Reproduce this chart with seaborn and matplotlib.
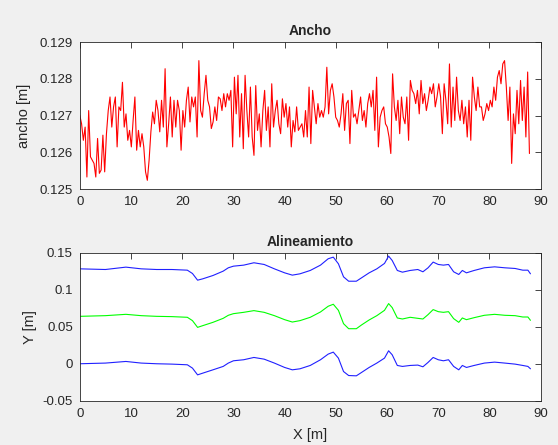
import numpy as np
import pandas as pd
import seaborn as sns
import matplotlib.pyplot as plt
from matplotlib.ticker import FuncFormatter

# Ancho (width) profile, one value every ~0.35 m
ancho = [
    0.12701, 0.12678, 0.12633, 0.12669, 0.12533, 0.12714, 0.12588, 0.12579, 0.12570, 0.12533,
    0.12638, 0.12543, 0.12552, 0.12647, 0.12547, 0.12651, 0.12714, 0.12751, 0.12669, 0.12724,
    0.12751, 0.12615, 0.12724, 0.12714, 0.12791, 0.12669, 0.12705, 0.12633, 0.12660, 0.12615,
    0.12687, 0.12751, 0.12606, 0.12660, 0.12615, 0.12651, 0.12615, 0.12547, 0.12524, 0.12579,
    0.12656, 0.12710, 0.12678, 0.12742, 0.12714, 0.12656, 0.12742, 0.12669, 0.12828, 0.12615,
    0.12678, 0.12751, 0.12642, 0.12742, 0.12669, 0.12742, 0.12714, 0.12606, 0.12714, 0.12669,
    0.12742, 0.12778, 0.12683, 0.12751, 0.12724, 0.12751, 0.12642, 0.12850, 0.12714, 0.12696,
    0.12760, 0.12810, 0.12742, 0.12724, 0.12665, 0.12683, 0.12724, 0.12687, 0.12751, 0.12746,
    0.12714, 0.12760, 0.12724, 0.12760, 0.12742, 0.12769, 0.12615, 0.12805, 0.12705, 0.12810,
    0.12642, 0.12760, 0.12610, 0.12810, 0.12714, 0.12642, 0.12778, 0.12642, 0.12592, 0.12782,
    0.12660, 0.12705, 0.12615, 0.12714, 0.12769, 0.12660, 0.12724, 0.12615, 0.12787, 0.12669,
    0.12714, 0.12742, 0.12678, 0.12651, 0.12746, 0.12696, 0.12733, 0.12669, 0.12724, 0.12615,
    0.12687, 0.12656, 0.12724, 0.12660, 0.12669, 0.12678, 0.12642, 0.12714, 0.12642, 0.12778,
    0.12624, 0.12769, 0.12724, 0.12678, 0.12733, 0.12696, 0.12714, 0.12696, 0.12724, 0.12832,
    0.12705, 0.12769, 0.12787, 0.12751, 0.12696, 0.12687, 0.12669, 0.12705, 0.12760, 0.12660,
    0.12733, 0.12742, 0.12624, 0.12769, 0.12696, 0.12705, 0.12678, 0.12714, 0.12751, 0.12687,
    0.12714, 0.12669, 0.12733, 0.12760, 0.12724, 0.12769, 0.12660, 0.12805, 0.12615, 0.12696,
    0.12714, 0.12724, 0.12678, 0.12669, 0.12642, 0.12597, 0.12814, 0.12724, 0.12687, 0.12742,
    0.12651, 0.12751, 0.12696, 0.12678, 0.12751, 0.12633, 0.12796, 0.12769, 0.12760, 0.12733,
    0.12769, 0.12705, 0.12796, 0.12733, 0.12760, 0.12714, 0.12742, 0.12778, 0.12760, 0.12787,
    0.12724, 0.12751, 0.12787, 0.12751, 0.12651, 0.12787, 0.12742, 0.12678, 0.12841, 0.12669,
    0.12778, 0.12687, 0.12805, 0.12714, 0.12687, 0.12742, 0.12678, 0.12724, 0.12642, 0.12742,
    0.12633, 0.12805, 0.12751, 0.12714, 0.12778, 0.12724, 0.12724, 0.12687, 0.12705, 0.12733,
    0.12714, 0.12742, 0.12724, 0.12778, 0.12742, 0.12805, 0.12823, 0.12787, 0.12841, 0.12850,
    0.12778, 0.12687, 0.12778, 0.12570, 0.12705, 0.12651, 0.12769, 0.12678, 0.12796, 0.12687,
    0.12778, 0.12642, 0.12819, 0.12597,
]
x_end = 87.8

# Alineamiento: positions along the track and the three lateral lines
x_al = [0, 5, 9, 12, 15, 18, 21, 22, 23, 24, 26, 28, 29, 30, 32, 34, 36, 38, 40, 41.5,
        43, 45, 47, 48.5, 49.5, 50.5, 51.5, 52.5, 54, 55, 56.5, 58, 59.5, 60.3, 61, 62,
        63, 64.5, 66, 67, 68, 69, 70, 71, 72, 73, 74, 74.7, 75.5, 77, 79, 81, 83, 85,
        86.5, 87.5, 88]
borde_izq = [0.1283, 0.1274, 0.1306, 0.1283, 0.1274, 0.1274, 0.1265, 0.1220, 0.1130, 0.1148,
             0.1193, 0.1252, 0.1297, 0.1319, 0.1333, 0.1365, 0.1342, 0.1283, 0.1229, 0.1198,
             0.1216, 0.1261, 0.1333, 0.1419, 0.1441, 0.1351, 0.1175, 0.1116, 0.1116, 0.1161,
             0.1229, 0.1283, 0.1356, 0.1455, 0.1396, 0.1261, 0.1238, 0.1261, 0.1274, 0.1243,
             0.1297, 0.1374, 0.1342, 0.1333, 0.1342, 0.1243, 0.1207, 0.1261, 0.1229, 0.1261,
             0.1297, 0.1310, 0.1297, 0.1288, 0.1265, 0.1265, 0.1216]
eje = [0.0642, 0.0651, 0.0669, 0.0651, 0.0642, 0.0638, 0.0629, 0.0584, 0.0493, 0.0516,
       0.0561, 0.0615, 0.0656, 0.0678, 0.0696, 0.0719, 0.0696, 0.0651, 0.0597, 0.0565,
       0.0584, 0.0629, 0.0701, 0.0778, 0.0805, 0.0723, 0.0543, 0.0475, 0.0475, 0.0525,
       0.0593, 0.0651, 0.0723, 0.0814, 0.0760, 0.0620, 0.0606, 0.0629, 0.0615, 0.0606,
       0.0665, 0.0733, 0.0705, 0.0696, 0.0705, 0.0611, 0.0561, 0.0620, 0.0597, 0.0624,
       0.0656, 0.0669, 0.0656, 0.0651, 0.0633, 0.0633, 0.0588]
borde_der = [0.0002, 0.0011, 0.0033, 0.0011, 0.0002, -0.0003, -0.0012, -0.0057, -0.0148, -0.0125,
             -0.0080, -0.0034, 0.0011, 0.0042, 0.0056, 0.0087, 0.0064, 0.0011, -0.0048, -0.0080,
             -0.0066, -0.0021, 0.0056, 0.0132, 0.0159, 0.0078, -0.0103, -0.0157, -0.0161, -0.0116,
             -0.0048, 0.0011, 0.0078, 0.0177, 0.0123, -0.0021, -0.0034, -0.0021, -0.0016, -0.0039,
             0.0020, 0.0087, 0.0056, 0.0042, 0.0056, -0.0034, -0.0080, -0.0021, -0.0048, -0.0021,
             0.0011, 0.0024, 0.0011, -0.0003, -0.0021, -0.0034, -0.0066]


def matlab_axes(ax):
    ax.set_facecolor('white')
    for s in ax.spines.values():
        s.set_visible(True)
        s.set_color('#262626')
        s.set_linewidth(0.6)
    ax.tick_params(direction='in', length=4, width=0.6, top=True, right=True,
                   labelsize=9.5, colors='#262626', pad=5)
    ax.yaxis.set_major_formatter(FuncFormatter(lambda v, p: '%g' % round(v, 4)))


def main():
    sns.set_style('white')
    plt.rcParams['font.family'] = ['Liberation Sans', 'DejaVu Sans']

    fig = plt.figure(figsize=(5.58, 4.45), dpi=100, facecolor='#f0f0f0')
    ax1 = fig.add_axes([0.143, 0.575, 0.826, 0.330])
    ax2 = fig.add_axes([0.143, 0.099, 0.826, 0.333])

    # Ancho
    df1 = pd.DataFrame({'x': np.linspace(0, x_end, len(ancho)), 'ancho': ancho})
    sns.lineplot(data=df1, x='x', y='ancho', color='#ff0000', linewidth=0.8, ax=ax1)
    ax1.set_xlim(0, 90)
    ax1.set_ylim(0.125, 0.129)
    ax1.set_xticks(range(0, 91, 10))
    ax1.set_yticks([0.125, 0.126, 0.127, 0.128, 0.129])
    ax1.set_xlabel('')
    ax1.set_ylabel('ancho [m]', fontsize=10.5, color='#262626', labelpad=6)
    ax1.set_title('Ancho', fontsize=10, fontweight='bold', pad=5)
    matlab_axes(ax1)

    # Alineamiento
    df2 = pd.DataFrame({'x': x_al, 'izq': borde_izq, 'eje': eje, 'der': borde_der})
    sns.lineplot(data=df2, x='x', y='izq', color='#2020ff', linewidth=0.8, ax=ax2)
    sns.lineplot(data=df2, x='x', y='eje', color='#00ff00', linewidth=0.8, ax=ax2)
    sns.lineplot(data=df2, x='x', y='der', color='#2020ff', linewidth=0.8, ax=ax2)
    ax2.set_xlim(0, 90)
    ax2.set_ylim(-0.05, 0.15)
    ax2.set_xticks(range(0, 91, 10))
    ax2.set_yticks([-0.05, 0, 0.05, 0.1, 0.15])
    ax2.set_xlabel('X [m]', fontsize=10.5, color='#262626', labelpad=6)
    ax2.set_ylabel('Y [m]', fontsize=10.5, color='#262626')
    ax2.set_title('Alineamiento', fontsize=10, fontweight='bold', pad=5)
    matlab_axes(ax2)

    fig.savefig('out.png', dpi=100, facecolor=fig.get_facecolor())


if __name__ == '__main__':
    main()
